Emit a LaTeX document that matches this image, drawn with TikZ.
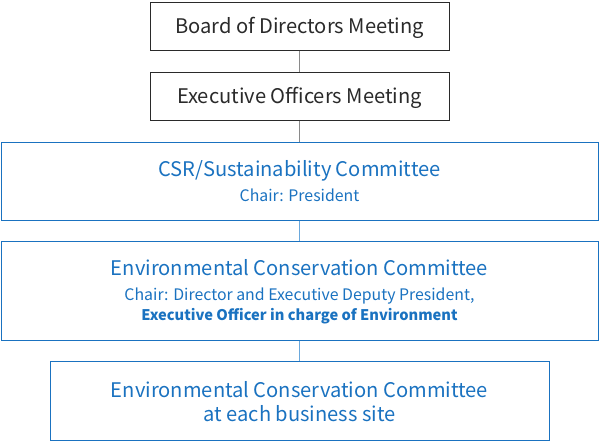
\documentclass[tikz,border=0pt]{standalone}
\usepackage{fontspec}
\setmainfont{Noto Sans CJK JP}
\usetikzlibrary{positioning}
\definecolor{OrgBlue}{HTML}{1A72C0}
\definecolor{LinkBlue}{HTML}{6AA8DC}
\definecolor{LinkGray}{HTML}{8A8A8A}
\definecolor{MeetText}{HTML}{2A2A2A}

\begin{document}
\begin{tikzpicture}[x = 0.75pt, y = -0.75pt,
    meetbox/.style = {draw = MeetText, line width = 0.75pt, inner sep = 0pt,
        minimum width = 224.25pt, minimum height = 36pt},
    combox/.style = {draw = OrgBlue, line width = 0.75pt, inner sep = 0pt},
    meettext/.style = {anchor = base, inner sep = 0pt, text = MeetText,
        font = \fontsize{15.1}{18}\selectfont},
    bigtext/.style = {anchor = base, inner sep = 0pt, text = OrgBlue,
        font = \fontsize{15.1}{18}\selectfont},
    smalltext/.style = {anchor = base, inner sep = 0pt, text = OrgBlue,
        font = \fontsize{11.9}{14}\selectfont},
    grayline/.style = {draw = LinkGray, line width = 1.1pt},
    blueline/.style = {draw = LinkBlue, line width = 1.1pt}]
    \useasboundingbox (0, 0) rectangle (600, 443);
    % meetings
    \node[meetbox] (board) at (299.5, 26) {};
    \node[meettext] (boardname) at (299.5, 33.3) {Board of Directors Meeting};
    \node[meetbox] (exec) at (299.5, 96) {};
    \node[meettext] (execname) at (299.5, 103.3) {Executive Officers Meeting};
    % committees
    \node[combox, minimum width = 447.75pt, minimum height = 58.5pt] (csr) at (299.5, 181) {};
    \node[bigtext] (csrname) at (299.5, 176) {CSR/Sustainability Committee};
    \node[smalltext] (csrchair) at (299.5, 201) {Chair: President};
    \node[combox, minimum width = 447.75pt, minimum height = 74.25pt] (env) at (299.5, 290.5) {};
    \node[bigtext] (envname) at (299.5, 275.7) {Environmental Conservation Committee};
    \node[smalltext] (envchair) at (299.5, 300) {Chair: Director and Executive Deputy President,};
    \node[smalltext, font = \fontsize{11}{14}\selectfont\bfseries] (envofficer) at (299.5, 320)
        {Executive Officer in charge of Environment};
    \node[combox, minimum width = 374.25pt, minimum height = 59.25pt] (site) at (299.5, 400.5) {};
    \node[bigtext] (sitename) at (299.5, 397.3) {Environmental Conservation Committee};
    \node[bigtext] (siteplace) at (299.5, 421.7) {at each business site};
    % links
    \draw[grayline] (board) -- (exec);
    \draw[grayline] (exec) -- (csr);
    \draw[blueline] (csr) -- (env);
    \draw[blueline] (env) -- (site);
\end{tikzpicture}
\end{document}
